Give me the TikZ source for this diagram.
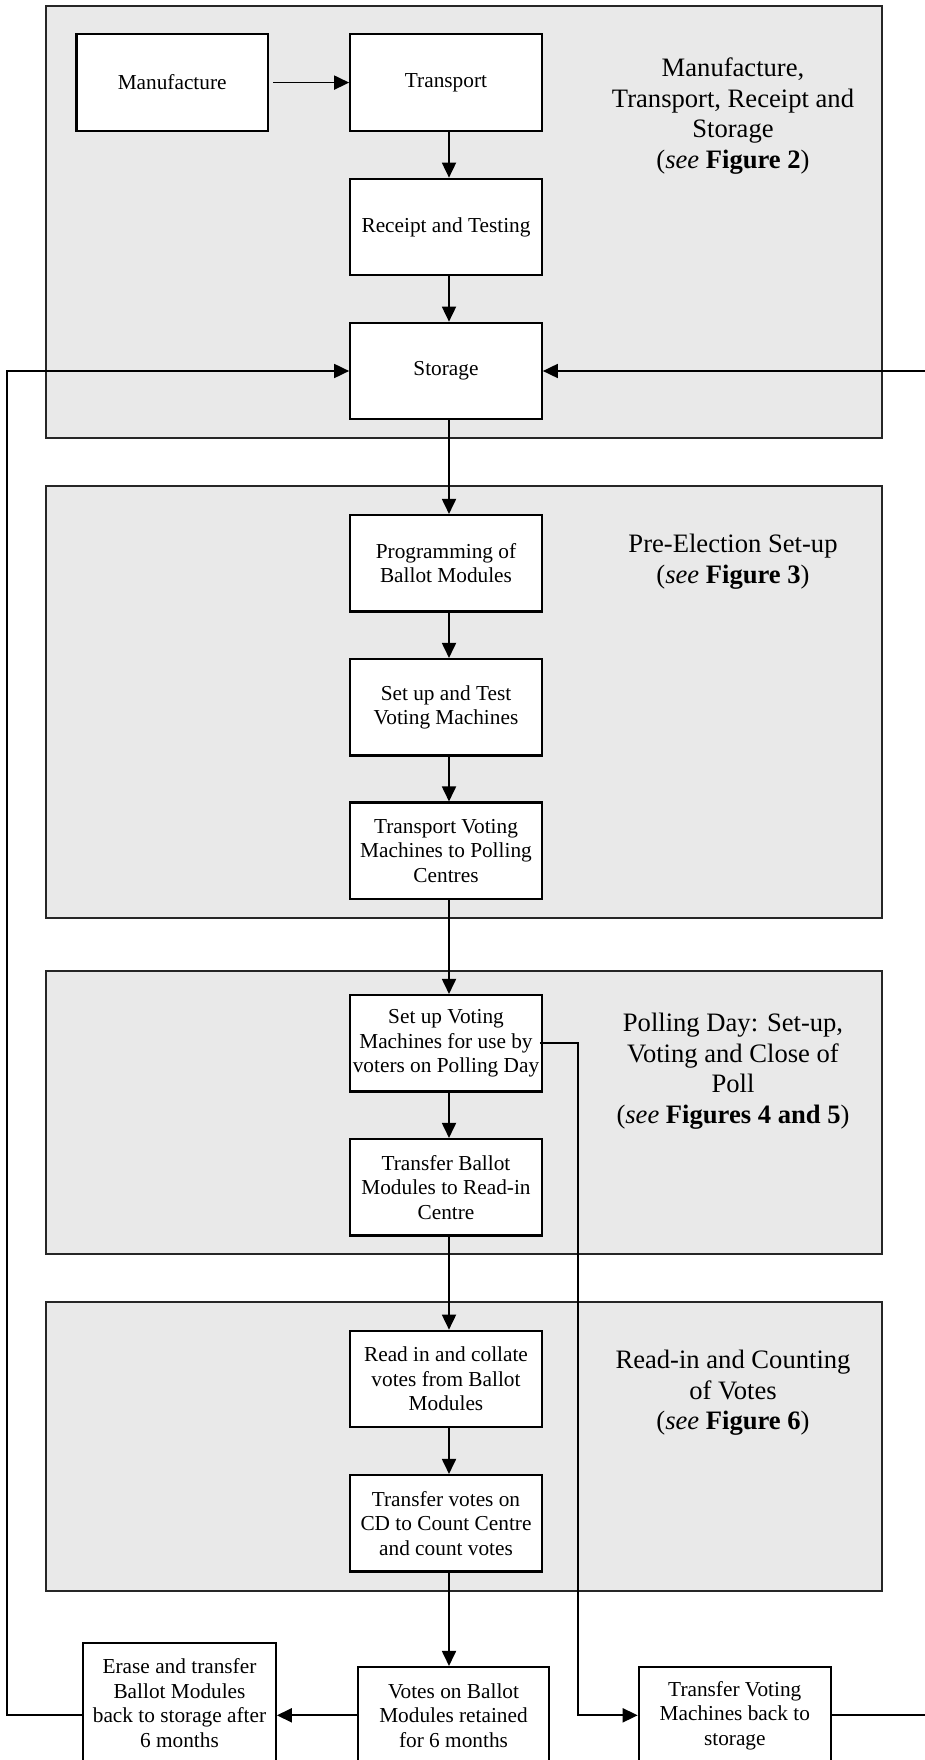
\documentclass[tikz,border=0pt]{standalone}
\usepackage{fontspec}
\setmainfont{Liberation Serif}
\usetikzlibrary{arrows.meta}
\definecolor{panelgrey}{HTML}{E9E9E9}
\tikzset{
  panel/.style={draw=black!85, line width=2.4pt, fill=panelgrey},
  stepbox/.style={draw=black, line width=2.2pt, fill=white, minimum width=191.5pt,
    minimum height=96.5pt, inner sep=0pt, align=center,
    font=\fontsize{21.3}{24.5}\selectfont},
  paneltitle/.style={align=center, inner sep=0pt, font=\fontsize{26.6}{30.6}\selectfont},
  conn/.style={line width=1.8pt, -{Triangle[length=15pt,width=14pt]}}
}
\begin{document}
\begin{tikzpicture}[x=1pt,y=-1pt]
\useasboundingbox (0,0) rectangle (924,1760);
% panels
\path[panel] (46,6) rectangle (882,438);
\path[panel] (46,486) rectangle (882,918);
\path[panel] (46,970.7) rectangle (882,1254);
\path[panel] (46,1301.7) rectangle (882,1590.7);
% titles
\node[paneltitle] (t1) at (733,116) {Manufacture,\\Transport, Receipt and\\Storage\\(\textit{see} \textbf{Figure 2})};
\node[paneltitle] (t2) at (733,562) {Pre-Election Set-up\\(\textit{see} \textbf{Figure 3})};
\node[paneltitle] (t3) at (733,1071) {Polling Day: Set-up,\\Voting and Close of\\Poll\\(\textit{see} \textbf{Figures 4 and 5})};
\node[paneltitle] (t4) at (733,1393) {Read-in and Counting\\of Votes\\(\textit{see} \textbf{Figure 6})};
% boxes
\node[stepbox] (manu) at (172.2,82.6) {Manufacture};
\node[stepbox] (trans) at (446,82.6) {Transport};
\node[stepbox] (rec) at (446,227) {Receipt and Testing};
\node[stepbox] (stor) at (446,371) {Storage};
\node[stepbox] (prog) at (446,563.3) {Programming of\\Ballot Modules};
\node[stepbox] (setup) at (446,707.3) {Set up and Test\\Voting Machines};
\node[stepbox] (tvm) at (446,850.8) {Transport Voting\\Machines to Polling\\Centres};
\node[stepbox] (setvm) at (446,1043.3) {Set up Voting\\Machines for use by\\voters on Polling Day};
\node[stepbox] (tbm) at (446,1187.3) {Transfer Ballot\\Modules to Read-in\\Centre};
\node[stepbox] (readin) at (446,1379) {Read in and collate\\votes from Ballot\\Modules};
\node[stepbox] (tvotes) at (446,1523.3) {Transfer votes on\\CD to Count Centre\\and count votes};
\node[stepbox, minimum width=192.5pt, minimum height=120pt] (erase) at (179.5,1703) {Erase and transfer\\Ballot Modules\\back to storage after\\6 months};
\node[stepbox] (votes) at (453.5,1715.3) {Votes on Ballot\\Modules retained\\for 6 months};
\node[stepbox, minimum width=192pt] (tback) at (734.8,1715.3) {Transfer Voting\\Machines back to\\storage};
% helper coordinates
\coordinate (lx) at (7,0);
\coordinate (sx) at (577.7,0);
\coordinate (rx) at (932,0);
% connectors
\draw[conn, shorten <=4pt] (manu.east) -- (trans.west);
\foreach \a/\b in {trans/rec, rec/stor, stor/prog, prog/setup, setup/tvm, tvm/setvm, setvm/tbm, tbm/readin, readin/tvotes}
  \draw[conn] ([xshift=3pt]\a.south) -- ([xshift=3pt]\b.north);
\draw[conn] ([xshift=3pt]tvotes.south) -- ([xshift=3pt]tvotes.south |- votes.north);
\draw[conn] (votes.west) -- (erase.east |- votes.west);
\draw[conn] (erase.west |- votes.west) -- (lx |- votes.west) -- (lx |- stor.west) -- (stor.west);
\draw[conn] ([xshift=-3pt]setvm.east) -- (sx |- setvm.east) -- (sx |- tback.west) -- (tback.west);
\draw[conn] (tback.east) -- (rx |- tback.east) -- (rx |- stor.east) -- (stor.east);
\end{tikzpicture}
\end{document}
